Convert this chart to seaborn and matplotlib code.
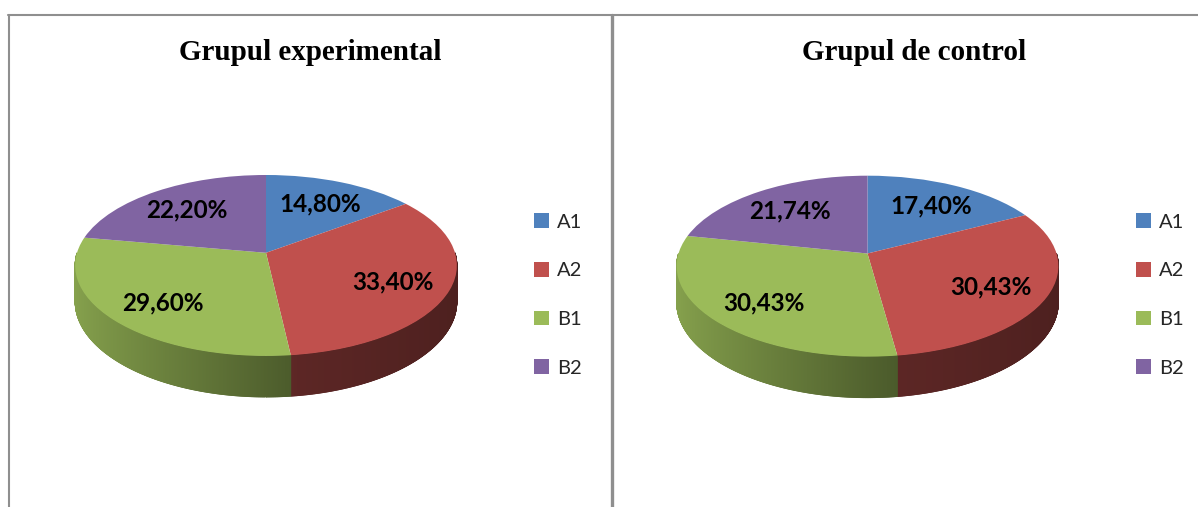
import numpy as np
import matplotlib
matplotlib.use("Agg")
import matplotlib.pyplot as plt
import seaborn as sns
from matplotlib.transforms import Transform
from matplotlib.collections import PolyCollection
from matplotlib.lines import Line2D
from matplotlib.patches import Patch
from matplotlib.colors import to_rgb

# Level distribution per group (percent)
categories = ["A1", "A2", "B1", "B2"]
experimental = [14.80, 33.40, 29.60, 22.20]
control = [17.40, 30.43, 30.43, 21.74]
titles = ["Grupul experimental", "Grupul de control"]
palette = ["#4F81BD", "#C0504D", "#9BBB59", "#8064A2"]

sns.set_theme(style="white")
plt.rcParams["font.family"] = ["Lato", "DejaVu Sans"]

W, H = 1198, 507
fig = plt.figure(figsize=(W / 100, H / 100), dpi=100)

SCALE = 189.0          # px per unit radius
PERSP = 0.14           # perspective strength (far edge shrinks)
TILT = 88.7 / SCALE    # vertical squash of the top face
DEPTH = 35.3 / SCALE   # thickness of the pie


class TiltedDisc(Transform):
    """Projects the flat unit pie onto a tilted disc seen in perspective."""
    input_dims = output_dims = 2
    is_separable = False
    has_inverse = False

    def transform_non_affine(self, values):
        v = np.asarray(values, dtype=float)
        x, z = v[:, 0], v[:, 1]
        d = 1.0 + PERSP * z
        return np.column_stack([x / d, TILT * z / d])


def project(x, z):
    d = 1.0 + PERSP * z
    return x / d, TILT * z / d


def box(x0, y0, w, h):
    """Pixel box (top-left origin) -> figure fraction rect."""
    return [x0 / W, 1 - (y0 + h) / H, w / W, h / H]


def side_shade(c):
    # light from the left: the side wall darkens as it turns to the right
    return np.interp(c, [-1.0, 0.15, 1.0], [0.87, 0.48, 0.4])


def pie3d(cx, cy, values):
    left, right, up, down = 230, 230, 120, 180
    ax = fig.add_axes(box(cx - left, cy - up, left + right, up + down))
    wedges, _ = ax.pie(values, colors=palette, startangle=90,
                       counterclock=False, radius=1,
                       wedgeprops=dict(linewidth=0, antialiased=True))
    disc = TiltedDisc() + ax.transData
    for w in wedges:
        w.set_transform(disc)
        w.set_zorder(3)

    # front wall of each slice, shaded in thin strips
    for w, col in zip(wedges, palette):
        base = np.array(to_rgb(col))
        t = np.radians(np.linspace(w.theta1, w.theta2, 600))
        vis = np.sin(t) <= 0
        if not vis.any():
            continue
        idx = np.flatnonzero(vis)
        runs = np.split(idx, np.flatnonzero(np.diff(idx) > 1) + 1)
        for run in runs:
            tt = t[run]
            px, py = project(np.cos(tt), np.sin(tt))
            drop = DEPTH / (1.0 + PERSP * np.sin(tt))
            polys, cols = [], []
            for i in range(len(tt) - 1):
                polys.append([(px[i], py[i]), (px[i + 1], py[i + 1]),
                              (px[i + 1], py[i + 1] - drop[i + 1]),
                              (px[i], py[i] - drop[i])])
                f = side_shade(np.cos((tt[i] + tt[i + 1]) / 2))
                cols.append(np.clip(base * f, 0, 1))
            pc = PolyCollection(polys, facecolors=cols, edgecolors=cols,
                                linewidths=0.6, zorder=1)
            ax.add_collection(pc)

    # percentage labels on the top face
    for w, v in zip(wedges, values):
        mid = np.radians((w.theta1 + w.theta2) / 2)
        lx, ly = project(0.70 * np.cos(mid), 0.72 * np.sin(mid))
        ax.text(lx, ly - 3 / SCALE, f"{v:.2f}%".replace(".", ","),
                ha="center", va="center", fontsize=17.5, fontweight="bold",
                color="black", zorder=5)

    ax.set_aspect("auto")
    ax.set_xlim(-left / SCALE, right / SCALE)
    ax.set_ylim(-down / SCALE, up / SCALE)
    ax.axis("off")


pie3d(266, 252.8, experimental)
pie3d(867.5, 253.5, control)

for tx, t in zip([310, 914], titles):
    fig.text(tx / W, 1 - 53 / H, t, ha="center", va="center",
             fontsize=21, fontweight="bold", family="Liberation Serif",
             color="black")

handles = [Patch(facecolor=c, edgecolor="none") for c in palette]
for lx in [534, 1136]:
    fig.legend(handles, categories, loc="center left",
               bbox_to_anchor=(lx / W, 1 - 295 / H), frameon=False,
               borderpad=0, borderaxespad=0, handlelength=0.75,
               handleheight=0.75, handletextpad=0.38, labelspacing=1.55,
               prop=dict(family="Lato", size=14.5))

# panel borders
gray = "#8f8f8f"
fig.add_artist(Line2D([8 / W, 1], [1 - 15 / H, 1 - 15 / H], color=gray, lw=1.5))
fig.add_artist(Line2D([8.5 / W, 8.5 / W], [0, 1 - 15 / H], color=gray, lw=1.5))
fig.add_artist(Line2D([611.5 / W, 611.5 / W], [0, 1 - 15 / H], color=gray, lw=2.4))

fig.savefig("out.png", dpi=100)
